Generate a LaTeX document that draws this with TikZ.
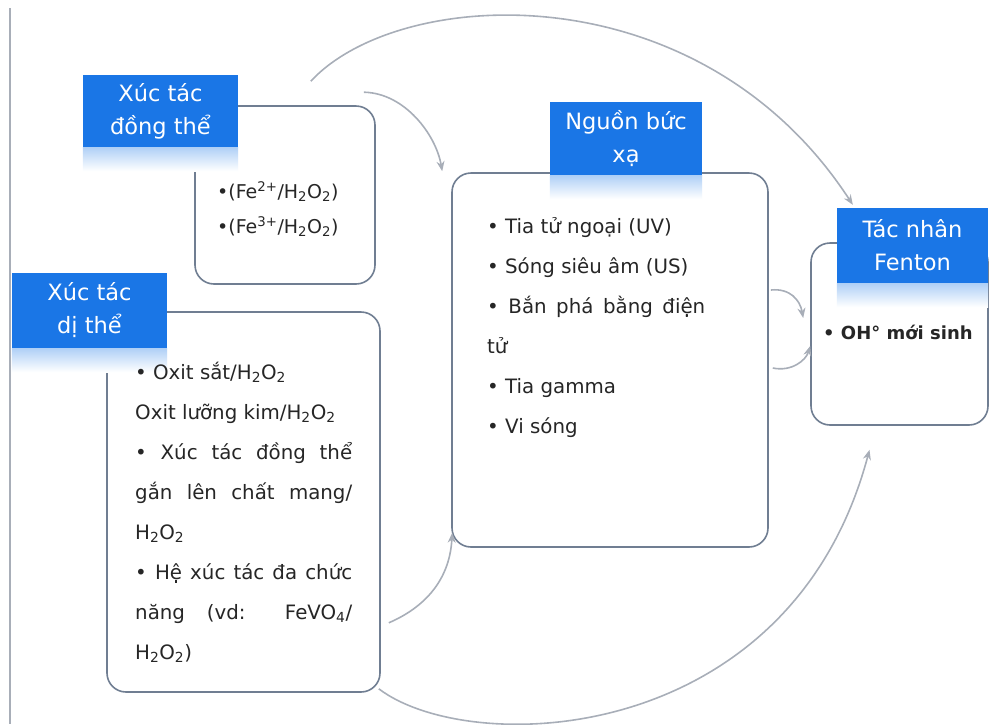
\documentclass[tikz,border=0pt]{standalone}
\usepackage{fontspec}
\setmainfont{DejaVu Sans}
\usetikzlibrary{arrows.meta}

\definecolor{hdrblue}{RGB}{26,118,230}
\definecolor{edgegray}{RGB}{112,126,146}
\definecolor{flowgray}{RGB}{168,174,184}

\tikzset{
  panel/.style={draw=edgegray,line width=1.6pt,rounded corners=19pt,fill=white},
  header/.style={fill=hdrblue,text=white,align=center,inner sep=0pt,
    font=\fontsize{22.5}{33}\selectfont},
  body/.style={anchor=base west,inner sep=0pt,text=black!85,
    font=\fontsize{19.8}{40}\selectfont},
  flow/.style={draw=flowgray,line width=1.6pt,-{Stealth[length=10pt,width=8pt]}}
}

\begin{document}
\begin{tikzpicture}[x=1pt,y=-1pt]
\useasboundingbox (0,0) rectangle (990,724);
\draw[flowgray,line width=1.2pt] (10,8)--(10,724);

% boxes
\node[panel,minimum width=180pt,minimum height=178pt] (dongbox) at (285,195) {};
\node[panel,minimum width=273pt,minimum height=380pt] (dibox) at (243.5,502) {};
\node[panel,minimum width=316pt,minimum height=374pt] (radbox) at (610,360) {};
\node[panel,minimum width=177pt,minimum height=182pt] (fentonbox) at (899.5,334) {};

% headers with their fade
\node[header,minimum width=155pt,minimum height=72pt] (donghdr) at (160.5,111) {Xúc tác\\đồng thể};
\node[header,minimum width=155pt,minimum height=75pt] (dihdr) at (89.5,310.5) {Xúc tác\\dị thể};
\node[header,minimum width=152pt,minimum height=73pt] (radhdr) at (626,138.5) {Nguồn bức\\xạ};
\node[header,minimum width=151pt,minimum height=75pt] (fentonhdr) at (912.5,245.5) {Tác nhân\\Fenton};
\foreach \h in {donghdr,dihdr,radhdr,fentonhdr}
  \shade[top color=hdrblue!35,bottom color=white] (\h.south west) rectangle ([yshift=-24pt]\h.south east);

% texts
\node[body,text width=150pt,align=left,font=\fontsize{19}{35}\selectfont] (dongtxt) at (217,198)
  {•(Fe\textsuperscript{2+}/H\textsubscript{2}O\textsubscript{2})\\
   •(Fe\textsuperscript{3+}/H\textsubscript{2}O\textsubscript{2})};
\node[body,text width=217pt,align=justify] (ditxt) at (135,379)
  {\noindent • Oxit sắt/H\textsubscript{2}O\textsubscript{2}\newline
   Oxit lưỡng kim/H\textsubscript{2}O\textsubscript{2}\newline
   • Xúc tác đồng thể\linebreak
   gắn lên chất mang/\linebreak
   H\textsubscript{2}O\textsubscript{2}\newline
   • Hệ xúc tác đa chức\linebreak
   năng (vd: FeVO\textsubscript{4}/\linebreak
   H\textsubscript{2}O\textsubscript{2})};
\node[body,text width=218pt,align=justify] (radtxt) at (487,233)
  {\noindent • Tia tử ngoại (UV)\newline
   • Sóng siêu âm (US)\newline
   • Bắn phá bằng điện\linebreak
   tử\newline
   • Tia gamma\newline
   • Vi sóng};
\node[body,font=\fontsize{18}{30}\selectfont\bfseries] (fentontxt) at (823,339) {• OH° mới sinh};

% arrows
\draw[flow] ([shift={(-65pt,24pt)}]dongbox.north east) .. controls (400,-15) and (700,-30) .. ([shift={(16pt,3pt)}]fentonhdr.north west);
\draw[flow] ([shift={(-12pt,13pt)}]dongbox.north east) .. controls (405,93) and (436,135) .. ([shift={(-9pt,1pt)}]radbox.north west);
\draw[flow] ([shift={(8pt,70pt)}]dibox.south east) .. controls (430,605) and (450,575) .. ([shift={(1pt,15pt)}]radbox.south west);
\draw[flow] ([shift={(2pt,70pt)}]radbox.east) .. controls (790,288) and (800,300) .. ([shift={(-7pt,16pt)}]fentonbox.west);
\draw[flow] ([shift={(4pt,-8pt)}]radbox.east) .. controls (792,372) and (806,360) .. ([shift={(0pt,-12pt)}]fentonbox.west);
\draw[flow] ([shift={(-2pt,4pt)}]dibox.south east) .. controls (470,758) and (790,748) .. ([shift={(-30pt,-24pt)}]fentonbox.south);
\end{tikzpicture}
\end{document}
